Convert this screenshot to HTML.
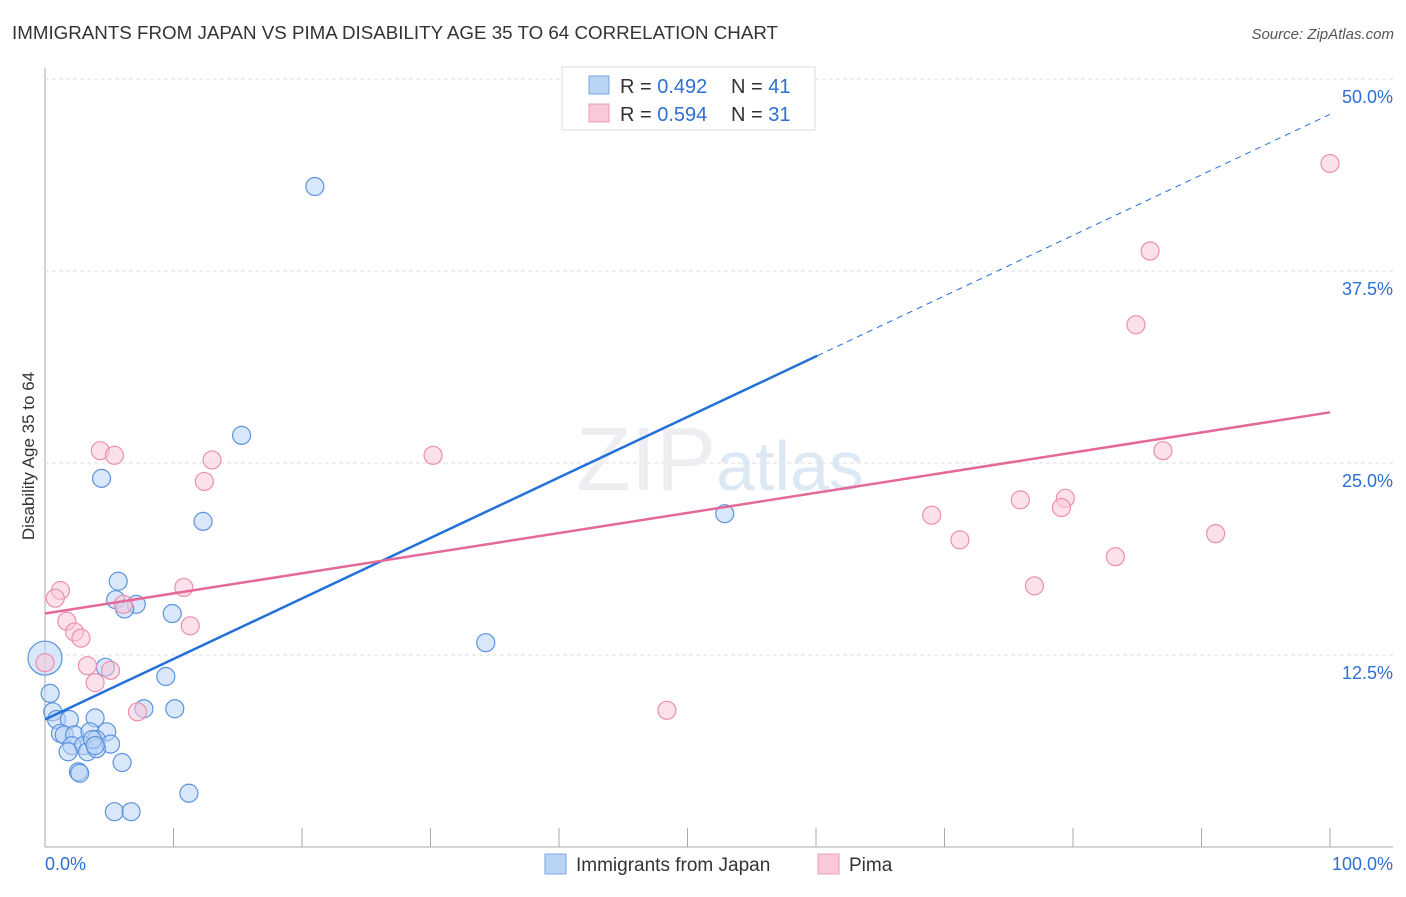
<!DOCTYPE html>
<html><head><meta charset="utf-8"><style>
body{margin:0;background:#fff;font-family:"Liberation Sans",sans-serif}
svg text{font-family:"Liberation Sans",sans-serif}
</style></head><body>
<svg width="1406" height="892">
<text x="12" y="39" font-size="18" fill="#333" textLength="766" lengthAdjust="spacingAndGlyphs">IMMIGRANTS FROM JAPAN VS PIMA DISABILITY AGE 35 TO 64 CORRELATION CHART</text>
<text x="1394" y="39" font-size="15" fill="#555" font-style="italic" text-anchor="end">Source: ZipAtlas.com</text>
<text x="34" y="456" font-size="17" fill="#333" transform="rotate(-90 34 456)" text-anchor="middle">Disability Age 35 to 64</text>
<g id="grid"></g>
<text x="720" y="490" font-size="90" fill="#eceef2" text-anchor="middle" font-family="Liberation Serif">ZIP<tspan fill="#dde8f5" font-family="Liberation Sans" font-size="70">atlas</tspan></text>
<g id="marks"></g>
<g>
<rect x="562" y="67" width="253" height="63" fill="#fff" stroke="#ddd"/>
<rect x="589" y="76" width="20" height="18" fill="#b9d4f5" stroke="#7aa7e0"/>
<rect x="589" y="104" width="20" height="18" fill="#f9c9d8" stroke="#eb9ab3"/>
<text x="620" y="93" font-size="20" fill="#333">R = <tspan fill="#2d6fd3">0.492</tspan></text>
<text x="731" y="93" font-size="20" fill="#333">N = <tspan fill="#2d6fd3">41</tspan></text>
<text x="620" y="121" font-size="20" fill="#333">R = <tspan fill="#2d6fd3">0.594</tspan></text>
<text x="731" y="121" font-size="20" fill="#333">N = <tspan fill="#2d6fd3">31</tspan></text>
</g>
<g>
<rect x="545" y="854" width="21" height="20" fill="#b9d4f5" stroke="#7aa7e0"/>
<text x="576" y="871" font-size="19" fill="#333">Immigrants from Japan</text>
<rect x="818" y="854" width="21" height="20" fill="#f9c9d8" stroke="#eb9ab3"/>
<text x="849" y="871" font-size="19" fill="#333">Pima</text>
</g>
<text x="45" y="870" font-size="18" fill="#2d6fd3">0.0%</text>
<text x="1393" y="870" font-size="18" fill="#2d6fd3" text-anchor="end">100.0%</text>
</svg>
<script>
const blueX=[21.0,15.3,4.4,12.3,52.9,5.7,5.5,7.1,6.2,9.9,34.3,0,4.7,9.4,0.4,7.7,10.1,0.6,0.9,1.9,3.9,1.2,1.5,2.3,3.5,4.8,4.0,2.1,3.0,5.1,1.8,3.3,4.0,6.0,2.6,2.7,11.2,5.4,6.7,3.7,3.9];
const blueY=[43.0,26.8,24.0,21.2,21.7,17.3,16.1,15.8,15.5,15.2,13.3,12.3,11.7,11.1,10.0,9.0,9.0,8.8,8.3,8.3,8.4,7.4,7.3,7.3,7.5,7.5,7.0,6.6,6.6,6.7,6.2,6.2,6.4,5.5,4.9,4.8,3.5,2.3,2.3,7.0,6.6];
const pinkX=[100,86.0,84.9,87.0,91.1,75.9,79.4,79.1,69.0,71.2,83.3,77.0,48.4,30.2,13.0,12.4,4.3,5.4,10.8,11.3,1.2,0.8,6.1,1.7,2.3,2.8,0,3.3,5.1,3.9,7.2];
const pinkY=[44.5,38.8,34.0,25.8,20.4,22.6,22.7,22.1,21.6,20.0,18.9,17.0,8.9,25.5,25.2,23.8,25.8,25.5,16.9,14.4,16.7,16.2,15.8,14.7,14.0,13.6,12.0,11.8,11.5,10.7,8.8];
const yTicks=[12.5,25.0,37.5,50.0];
const yTickLabels=["12.5%","25.0%","37.5%","50.0%"];
const xTicks=[10,20,30,40,50,60,70,80,90,100];
const blueLine=[8.3,47.7];
const blueSolidEnd=60.1;
const pinkLine=[15.2,28.3];
const NS="http://www.w3.org/2000/svg";
const sx=v=>45+v*12.85, sy=v=>847-v*15.36;
function mk(p,tag,a){const e=document.createElementNS(NS,tag);for(const k in a)e.setAttribute(k,a[k]);p.appendChild(e);return e;}
const g=document.getElementById('grid'), m=document.getElementById('marks');
let e;
e=mk(g,'line',{x1:45,y1:68,x2:45,y2:847,stroke:'#aaa'});


e=mk(g,'line',{x1:45,y1:847,x2:1393,y2:847,stroke:'#aaa'});


yTicks.forEach((t,i)=>{
 e=mk(g,'line',{x1:45,y1:sy(t),x2:1393,y2:sy(t),stroke:'#ddd','stroke-dasharray':'4 3'});
 
 
 e=mk(g,'text',{x:1393,y:sy(t)+24,'font-size':18,fill:'#2d6fd3','text-anchor':'end'});
 e.textContent=yTickLabels[i];
 
 
});
xTicks.forEach(t=>{
 e=mk(g,'line',{x1:sx(t),y1:828,x2:sx(t),y2:847,stroke:'#aaa'});
 
 
});
function dot(x,y,fill,stroke,r,name){
 e=mk(m,'circle',{cx:sx(x),cy:sy(y),r:r,fill:fill,'fill-opacity':0.55,stroke:stroke,'stroke-width':1.2});
 
 
}
blueX.forEach((x,i)=>dot(x,blueY[i],'#b9d4f5','#5b93dc',i===11?17:9,'japan-point'));
pinkX.forEach((x,i)=>dot(x,pinkY[i],'#f9c9d8','#eb8fae',9,'pima-point'));
const by=x=>blueLine[0]+(blueLine[1]-blueLine[0])*x/100;
e=mk(m,'line',{x1:sx(0),y1:sy(by(0)),x2:sx(blueSolidEnd),y2:sy(by(blueSolidEnd)),stroke:'#2270d9','stroke-width':2.5});


e=mk(m,'line',{x1:sx(blueSolidEnd),y1:sy(by(blueSolidEnd)),x2:sx(100),y2:sy(by(100)),stroke:'#2270d9','stroke-width':1,'stroke-dasharray':'6 5'});


e=mk(m,'line',{x1:sx(0),y1:sy(pinkLine[0]),x2:sx(100),y2:sy(pinkLine[1]),stroke:'#e4699a','stroke-width':2.5});


</script>
</body></html>
